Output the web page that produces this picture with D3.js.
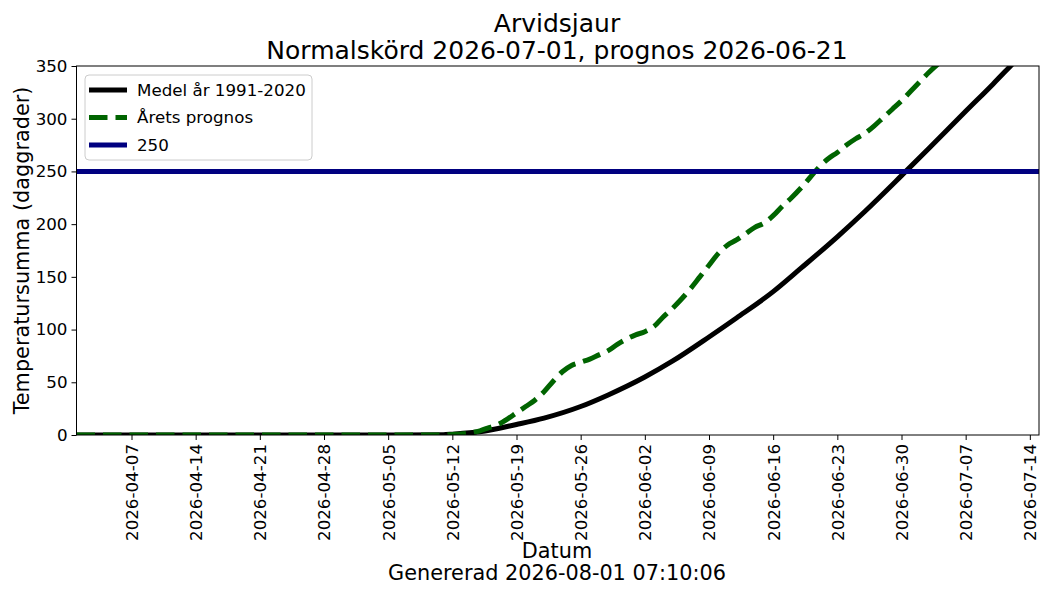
<!DOCTYPE html>
<html>
<head>
<meta charset="utf-8">
<script src="https://cdn.jsdelivr.net/npm/d3@7"></script>
<style>
  body { margin: 0; background: #fff; }
  svg text { font-family: "DejaVu Sans", sans-serif; fill: #000; }
</style>
</head>
<body>
<div id="chart"></div>
<script>
// values; day = days after 2026-04-01
const meanDays   = [0, 35, 40, 41, 44, 48, 51, 55, 58, 62, 65, 69, 72, 76, 79, 83, 86, 90, 93, 97, 100, 102, 104];
const meanValues = [0, 0, 0.3, 0.8, 3, 10, 16, 27, 38, 55, 70, 93, 111, 136, 158, 188, 212, 246, 272, 307, 333, 351, 369];

const progDays   = [0, 40, 41, 42, 43, 44, 45, 46, 47, 48, 49, 50, 51, 52, 53, 54, 55, 56, 57, 58, 59, 60,
                    61, 62, 63, 64, 65, 66, 67, 68, 69, 70, 71, 72, 73, 74, 75, 76, 77, 78, 79, 80,
                    81, 82, 83, 84, 85, 86, 87, 88, 89, 90, 91, 92, 93, 94, 95, 96];
const progValues = [0, 0, 0.5, 1, 2, 4, 7, 10, 15, 21, 27, 33, 41, 51, 60, 66, 69, 72, 76, 80, 86, 91,
                    95, 98, 103, 112, 120, 129, 139, 150, 161, 172, 180, 185, 191, 197, 201, 208, 217, 225, 234, 244,
                    254, 262, 268, 275, 281, 286, 293, 301, 309, 317, 326, 335, 344, 352, 358, 365];

const thresholdValue = 250;
const yTicks = [0, 50, 100, 150, 200, 250, 300, 350];
const xTickLabels = ["2026-04-07", "2026-04-14", "2026-04-21", "2026-04-28", "2026-05-05", "2026-05-12", "2026-05-19",
                     "2026-05-26", "2026-06-02", "2026-06-09", "2026-06-16", "2026-06-23", "2026-06-30", "2026-07-07", "2026-07-14"];
const legendLabels = ["Medel år 1991-2020", "Årets prognos", "250"];

const width = 1050, height = 600;
const margin = { left: 76.5, right: 1039, top: 66, bottom: 435 };
const tickFont = "16.7px", labelFont = "20.8px", titleFont = "25px";

const parse = d3.utcParse("%Y-%m-%d");
const start = parse("2026-04-01");
const dayToDate = d => d3.utcDay.offset(start, d);

const x = d3.scaleUtc()
  .domain([start, parse("2026-07-15")])
  .range([margin.left, margin.right]);
const y = d3.scaleLinear()
  .domain([0, 350])
  .range([margin.bottom, margin.top]);

const svg = d3.select("#chart").append("svg")
  .attr("width", width)
  .attr("height", height);

svg.append("defs").append("clipPath").attr("id", "plotclip")
  .append("rect")
  .attr("x", margin.left).attr("y", margin.top)
  .attr("width", margin.right - margin.left)
  .attr("height", margin.bottom - margin.top);

const plot = svg.append("g").attr("clip-path", "url(#plotclip)");

const line = d3.line()
  .x(d => x(dayToDate(d[0])))
  .y(d => y(d[1]))
  .curve(d3.curveMonotoneX);

plot.append("path")
  .datum(meanDays.map((d, i) => [d, meanValues[i]]))
  .attr("d", line)
  .attr("fill", "none")
  .attr("stroke", "#000")
  .attr("stroke-width", 5);

plot.append("path")
  .datum(progDays.map((d, i) => [d, progValues[i]]))
  .attr("d", line)
  .attr("fill", "none")
  .attr("stroke", "#006400")
  .attr("stroke-width", 5)
  .attr("stroke-dasharray", "18.5,8");

plot.append("line")
  .attr("x1", margin.left).attr("x2", margin.right)
  .attr("y1", y(thresholdValue)).attr("y2", y(thresholdValue))
  .attr("stroke", "#000080")
  .attr("stroke-width", 5);

// axes
const yAxis = svg.append("g")
  .attr("transform", "translate(" + margin.left + ",0)")
  .call(d3.axisLeft(y).tickValues(yTicks).tickSize(5).tickPadding(4));
yAxis.selectAll("text").style("font-size", tickFont);

const xAxis = svg.append("g")
  .attr("transform", "translate(0," + margin.bottom + ")")
  .call(d3.axisBottom(x).tickValues(xTickLabels.map(parse)).tickSize(5).tickFormat(d3.utcFormat("%Y-%m-%d")));
xAxis.selectAll("text")
  .style("font-size", tickFont)
  .attr("transform", "rotate(-90)")
  .attr("x", -9)
  .attr("y", 0)
  .attr("dy", "0.35em")
  .style("text-anchor", "end");

svg.selectAll(".domain").remove();
svg.selectAll(".tick line").attr("stroke", "#000");
svg.append("rect")
  .attr("x", margin.left).attr("y", margin.top)
  .attr("width", margin.right - margin.left)
  .attr("height", margin.bottom - margin.top)
  .attr("fill", "none")
  .attr("stroke", "#000")
  .attr("stroke-width", 1);

// legend
const legend = svg.append("g");
legend.append("rect")
  .attr("x", 85).attr("y", 75)
  .attr("width", 227).attr("height", 85)
  .attr("rx", 4)
  .attr("fill", "#fff").attr("fill-opacity", 0.8)
  .attr("stroke", "#ccc");
const legendStyles = [
  { color: "#000", dash: null },
  { color: "#006400", dash: "18.5,8" },
  { color: "#000080", dash: null }
];
legendLabels.forEach((label, i) => {
  const ly = 90 + i * 27.5;
  legend.append("line")
    .attr("x1", 89).attr("x2", 127)
    .attr("y1", ly).attr("y2", ly)
    .attr("stroke", legendStyles[i].color)
    .attr("stroke-width", 5)
    .attr("stroke-dasharray", legendStyles[i].dash);
  legend.append("text")
    .attr("x", 137).attr("y", ly)
    .attr("dy", "0.35em")
    .style("font-size", tickFont)
    .text(label);
});

// titles and labels
svg.append("text").attr("x", 557).attr("y", 32)
  .attr("text-anchor", "middle").style("font-size", titleFont).text("Arvidsjaur");
svg.append("text").attr("x", 557).attr("y", 59)
  .attr("text-anchor", "middle").style("font-size", titleFont).text("Normalskörd 2026-07-01, prognos 2026-06-21");
svg.append("text").attr("x", 557).attr("y", 558)
  .attr("text-anchor", "middle").style("font-size", labelFont).text("Datum");
svg.append("text").attr("x", 557).attr("y", 580)
  .attr("text-anchor", "middle").style("font-size", labelFont).text("Genererad 2026-08-01 07:10:06");
svg.append("text")
  .attr("transform", "translate(29," + ((margin.top + margin.bottom) / 2) + ") rotate(-90)")
  .attr("text-anchor", "middle").style("font-size", labelFont).text("Temperatursumma (daggrader)");
</script>
</body>
</html>
